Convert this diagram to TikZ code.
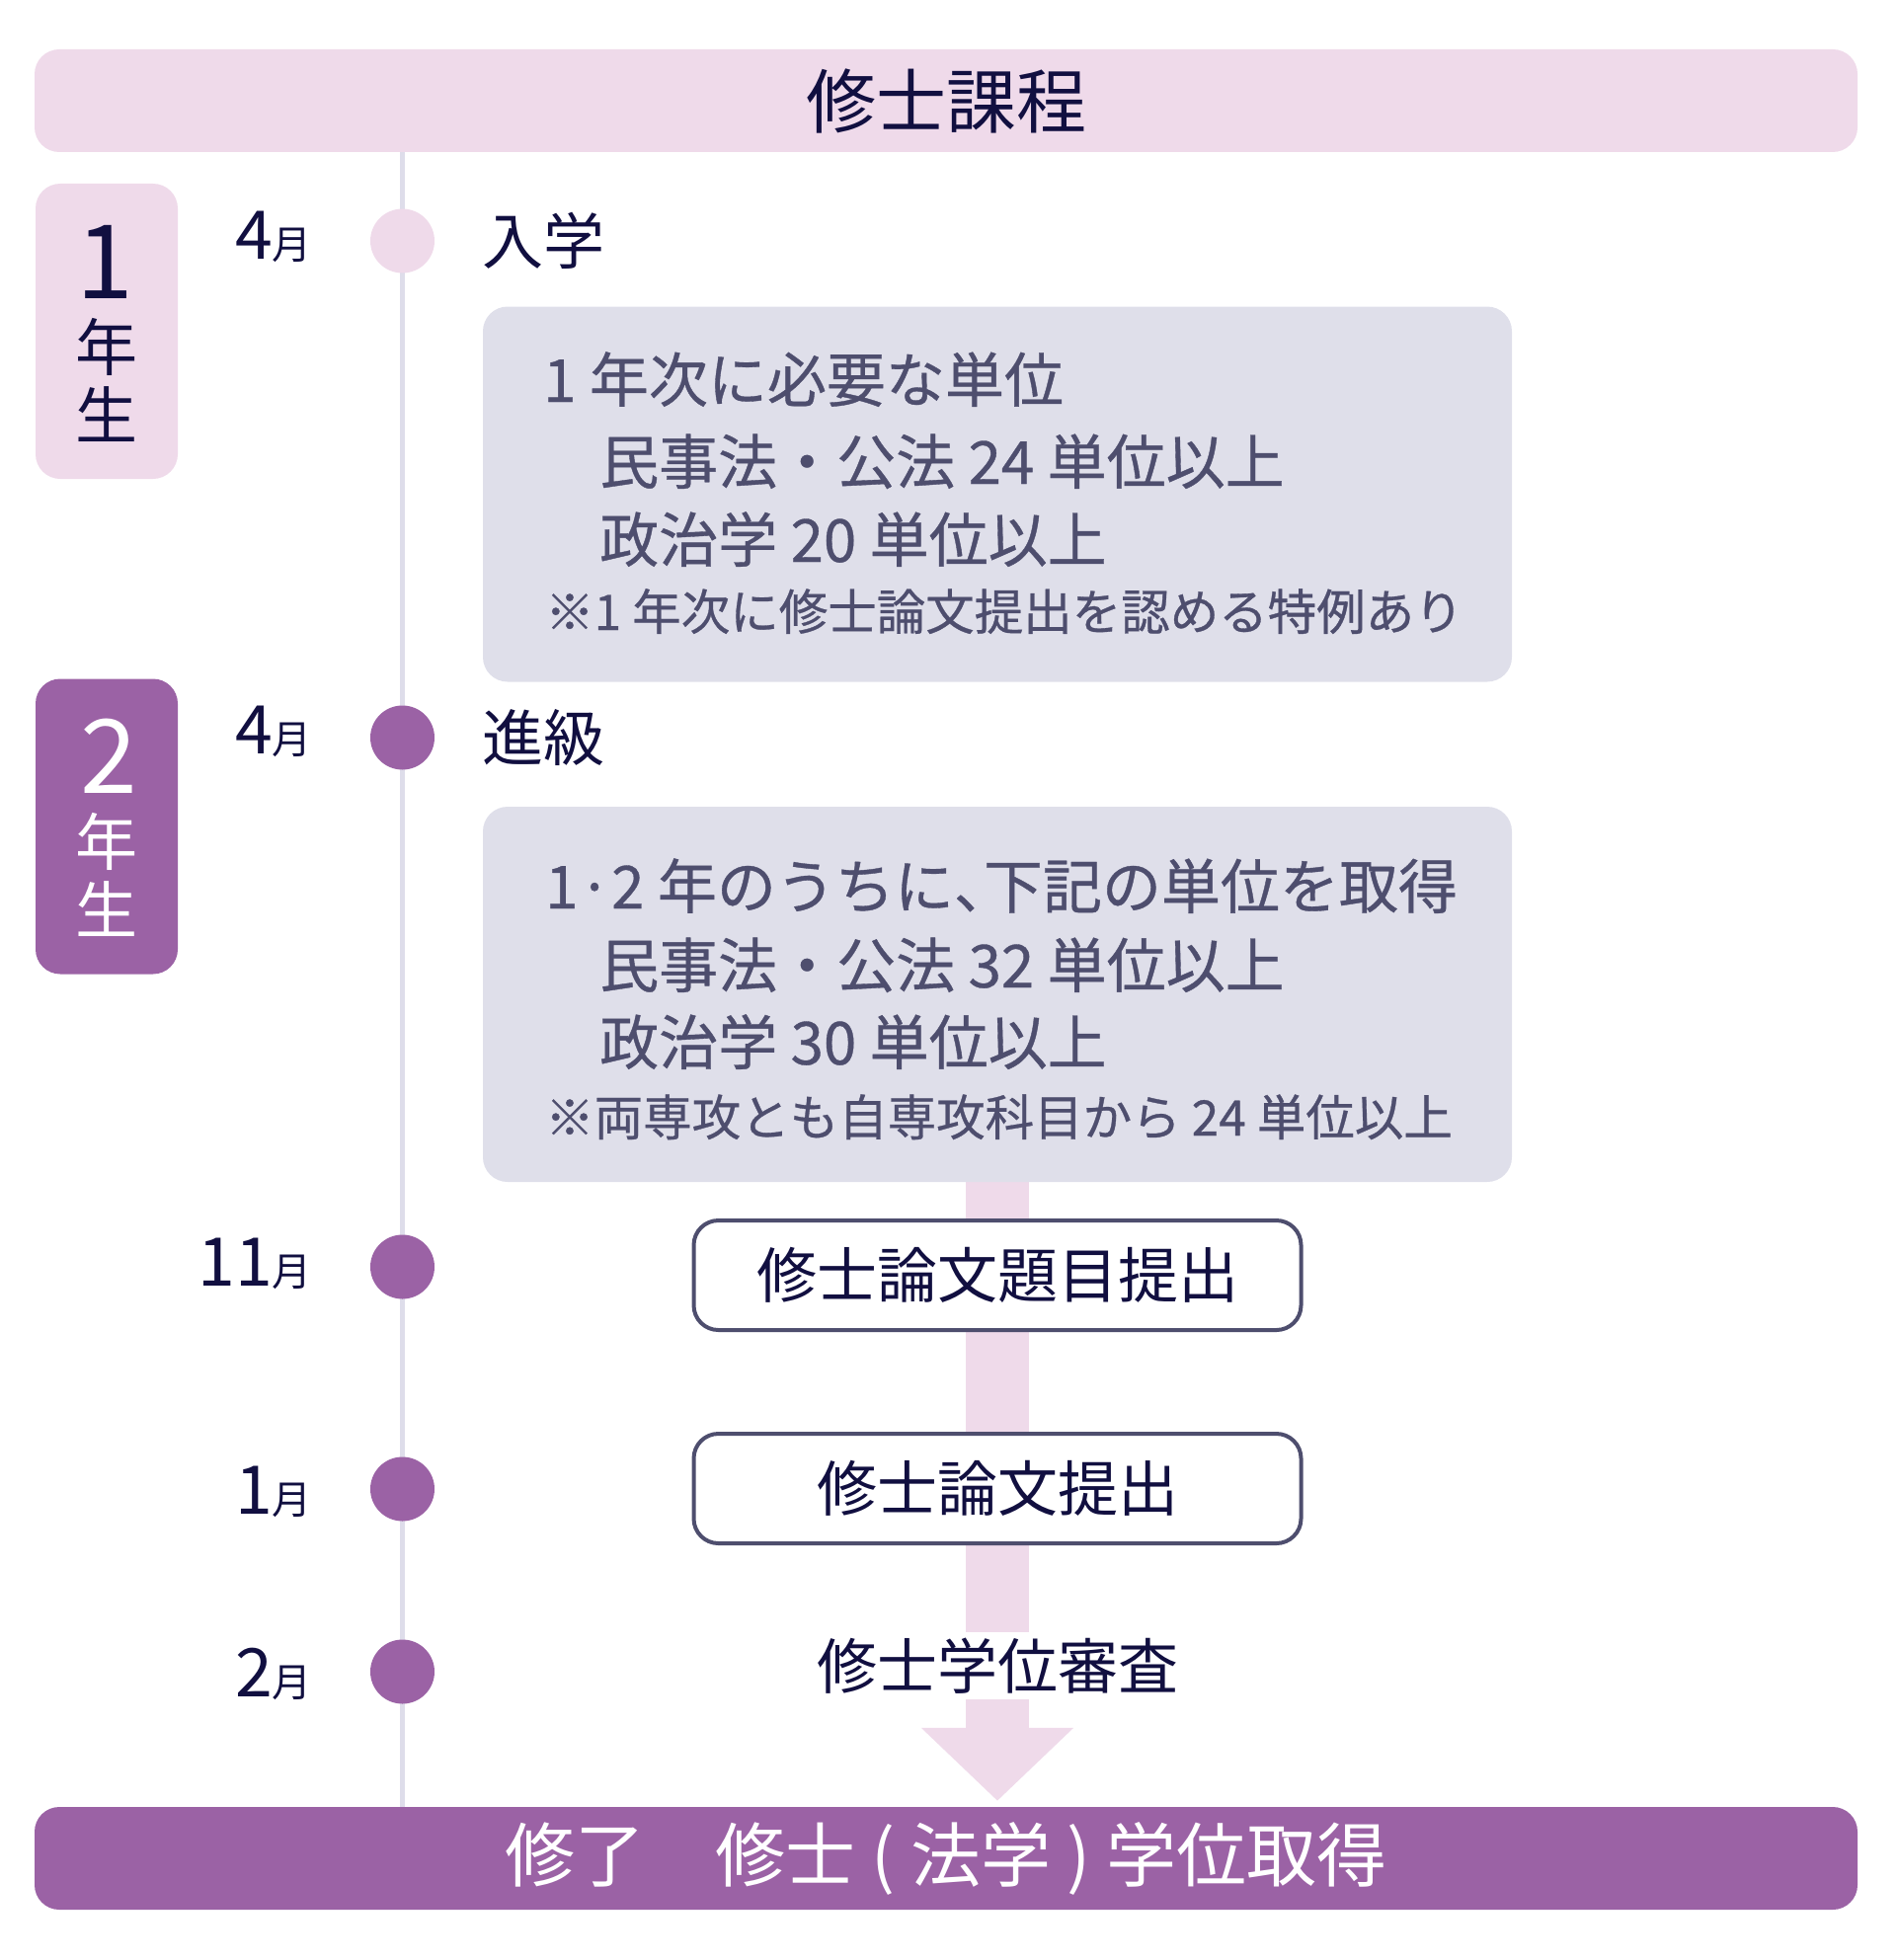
\documentclass[tikz,border=0pt]{standalone}
\usepackage{fontspec}
\setmainfont{Noto Sans CJK JP}
\newfontfamily\reqfont[FakeBold=0.6]{Noto Sans CJK JP}
\usetikzlibrary{shapes, arrows.meta, positioning, backgrounds}
\definecolor{paleplum}{HTML}{EFDAEA}
\definecolor{plum}{HTML}{9B62A5}
\definecolor{mist}{HTML}{DFDFEA}
\definecolor{slate}{HTML}{4E4E6E}
\definecolor{ink}{HTML}{110F40}
\definecolor{railgray}{HTML}{DEDDEA}
\tikzstyle{band} = [rectangle, rounded corners=25pt, minimum width=1846pt, minimum height=104pt, inner sep=0pt, font=\fontsize{71}{71}\selectfont]
\tikzstyle{yearbox} = [rectangle, rounded corners=25pt, minimum width=144pt, minimum height=299pt]
\tikzstyle{yearnum} = [inner sep=0pt, font=\fontsize{104}{104}\selectfont]
\tikzstyle{yearkanji} = [inner sep=0pt, font=\fontsize{63}{63}\selectfont]
\tikzstyle{dot} = [circle, minimum size=65pt, inner sep=0pt, fill=plum]
\tikzstyle{mon} = [anchor=base east, inner sep=0pt, text=ink]
\tikzstyle{entry} = [anchor=west, inner sep=0pt, text=ink, font=\fontsize{62}{62}\selectfont]
\tikzstyle{reqbox} = [rectangle, rounded corners=25pt, fill=mist, minimum width=1042pt, minimum height=380pt]
\tikzstyle{req} = [anchor=base west, inner sep=0pt, text=slate, font=\reqfont\fontsize{60}{60}\selectfont]
\tikzstyle{note} = [req, font=\reqfont\fontsize{49.5}{49.5}\selectfont]
\tikzstyle{task} = [rectangle, rounded corners=25pt, draw=slate, line width=4pt, fill=white, minimum width=615pt, minimum height=111pt, text=ink, font=\fontsize{61}{61}\selectfont]
\tikzstyle{review} = [fill=white, inner xsep=4pt, inner ysep=0pt, minimum height=68pt, text=ink, font=\fontsize{61}{61}\selectfont]
\tikzstyle{timeline} = [line width=5pt, draw=railgray]
\tikzstyle{flow} = [line width=64pt, draw=paleplum, -{Triangle[width=150pt, length=74pt]}]
\newcommand{\monlabel}[1]{{\fontsize{68}{68}\selectfont #1}{\fontsize{40}{40}\selectfont 月}}
\newcommand{\halfcomma}{{\addfontfeatures{RawFeature=+halt}、}}

\begin{document}
\begin{tikzpicture}[x=1pt, y=-1pt]
  \useasboundingbox (0,0) rectangle (1920,1985);
  % 見出しと修了
  \node[band, fill=paleplum, text=ink] (title) at (958,102) {修士課程};
  \node[band, fill=plum, text=white] (done) at (958,1882) {修了　修士 ( 法学 ) 学位取得};

  % 1年生
  \node[yearbox, fill=paleplum] (y1) at (108,335.5) {};
  \node[yearnum, text=ink] (y1n) at (106,265) {1};
  \node[yearkanji, text=ink] (y1a) at (108,351) {年};
  \node[yearkanji, text=ink] (y1b) at (108,420) {生};

  \node[dot, fill=paleplum] (m1) at (407.5,244) {};
  \node[mon] (l1) at (316,262) {\monlabel{4}};
  \node[entry] (e1) at (488,244) {入学};

  \node[reqbox] (r1) at (1010,500.5) {};
  \node[req] (r1a) at (550,407) {1 年次に必要な単位};
  \node[req] (r1b) at (607,490) {民事法・公法 24 単位以上};
  \node[req] (r1c) at (607,569) {政治学 20 単位以上};
  \node[note] (r1d) at (552,638) {※1 年次に修士論文提出を認める特例あり};

  % 2年生
  \node[yearbox, fill=plum] (y2) at (108,837) {};
  \node[yearnum, text=white] (y2n) at (110,766) {2};
  \node[yearkanji, text=white] (y2a) at (108,852) {年};
  \node[yearkanji, text=white] (y2b) at (108,921) {生};

  \node[dot] (m2) at (407.5,747) {};
  \node[mon] (l2) at (316,763) {\monlabel{4}};
  \node[entry] (e2) at (488,747) {進級};

  \node[reqbox] (r2) at (1010,1007) {};
  \node[req] (r2a) at (552,920) {1·2 年のうちに\halfcomma 下記の単位を取得};
  \node[req] (r2b) at (607,1000) {民事法・公法 32 単位以上};
  \node[req] (r2c) at (607,1078) {政治学 30 単位以上};
  \node[note] (r2d) at (552,1150) {※両専攻とも自専攻科目から 24 単位以上};

  \node[dot] (m3) at (407.5,1283) {};
  \node[mon] (l3) at (316,1302) {\monlabel{11}};
  \node[task] (t1) at (1010,1291.5) {修士論文題目提出};

  \node[dot] (m4) at (407.5,1508) {};
  \node[mon] (l4) at (316,1533) {\monlabel{1}};
  \node[task] (t2) at (1010,1507.5) {修士論文提出};

  \node[dot] (m5) at (407.5,1693) {};
  \node[mon] (l5) at (316,1718) {\monlabel{2}};
  \node[review] (t3) at (1010,1687) {修士学位審査};

  \begin{pgfonlayer}{background}
    \draw[timeline] (title.south -| m1) -- (done.north -| m1);
    \draw[flow] (r2.south) -- ([yshift=6pt]done.north -| r2.south);
  \end{pgfonlayer}
\end{tikzpicture}
\end{document}
